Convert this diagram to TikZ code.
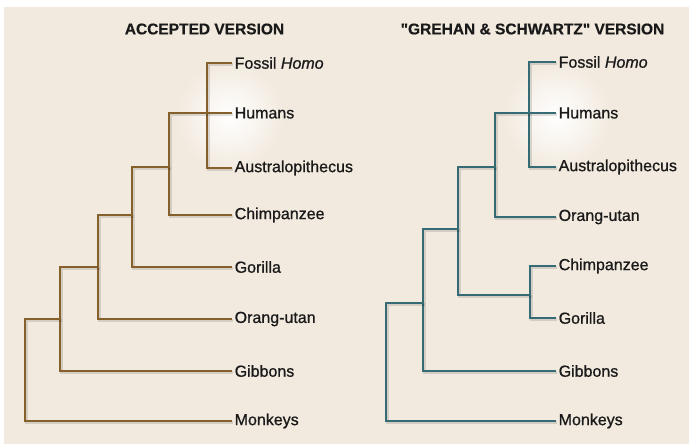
\documentclass[tikz,border=0pt]{standalone}
\usepackage{fontspec}
\setmainfont{Liberation Sans}
\newfontface\taxonfont{Liberation Sans}[FakeBold=0.9]
\newfontface\taxonitfont{Liberation Sans Italic}[FakeBold=0.9]
\newfontface\headfont{Liberation Sans Bold}[FakeBold=0.6]
\definecolor{bgbeige}{HTML}{F2EADF}
\definecolor{brownline}{HTML}{86602B}
\definecolor{tealline}{HTML}{356B75}
\definecolor{labeltext}{HTML}{1A1A1A}
\tikzset{
  branchL/.style={draw=brownline, line width=2.6bp, line cap=rect,
    preaction={draw=black, draw opacity=0.12, line width=2.6bp,
      transform canvas={shift={(1.5bp,-1.5bp)}}}},
  branchR/.style={draw=tealline, line width=2.6bp, line cap=rect,
    preaction={draw=black, draw opacity=0.12, line width=2.6bp,
      transform canvas={shift={(1.5bp,-1.5bp)}}}},
  taxon/.style={anchor=west, inner xsep=3.5bp, inner ysep=0bp, text=labeltext,
    font=\fontsize{16bp}{18bp}\taxonfont},
  header/.style={inner sep=0bp, text=labeltext,
    font=\fontsize{15.5bp}{18bp}\headfont},
}
\begin{document}
\begin{tikzpicture}[x=1bp, y=-1bp]
\useasboundingbox (0,0) rectangle (689,444);
\fill[white] (0,0) rectangle (689,444);
\fill[bgbeige] (4,7) rectangle (689,444);
% glows
\shade[inner color=white, outer color=bgbeige] (230,116) circle (54);
\shade[inner color=white, outer color=bgbeige] (557,116) circle (54);
% headers
\node[header] (hL) at (204.5,29) {ACCEPTED VERSION};
\node[header] (hR) at (532.5,29) {\symbol{"22}GREHAN \& SCHWARTZ\symbol{"22} VERSION};
% left labels
\node[taxon] (fhL) at (231,63) {Fossil {\taxonitfont Homo}};
\node[taxon] (huL) at (231,113) {Humans};
\node[taxon] (auL) at (231,168) {Australopithecus};
\node[taxon] (chL) at (231,215) {Chimpanzee};
\node[taxon] (goL) at (231,267) {Gorilla};
\node[taxon] (orL) at (231,319) {Orang-utan};
\node[taxon] (giL) at (231,371) {Gibbons};
\node[taxon] (moL) at (231,421) {Monkeys};
% right labels
\node[taxon] (fhR) at (555,62) {Fossil {\taxonitfont Homo}};
\node[taxon] (huR) at (555,113) {Humans};
\node[taxon] (auR) at (555,167) {Australopithecus};
\node[taxon] (orR) at (555,217) {Orang-utan};
\node[taxon] (chR) at (555,266) {Chimpanzee};
\node[taxon] (goR) at (555,318) {Gorilla};
\node[taxon] (giR) at (555,371) {Gibbons};
\node[taxon] (moR) at (555,421) {Monkeys};
% left internal nodes
\coordinate (aL) at (207,113);
\coordinate (bL) at (169,167);
\coordinate (cL) at (132,215);
\coordinate (dL) at (98,267);
\coordinate (eL) at (60,319);
\coordinate (fL) at (25,370);
% right internal nodes
\coordinate (aR) at (529,113);
\coordinate (bR) at (495,167);
\coordinate (cgR) at (530,295);
\coordinate (cR) at (458,229);
\coordinate (dR) at (423,303);
\coordinate (eR) at (386,360);
% left tree
\draw[branchL] (fhL.west) -| (aL) |- (auL.west);
\draw[branchL] (bL) |- (huL.west);
\draw[branchL] (bL) |- (chL.west);
\draw[branchL] (cL) |- (bL);
\draw[branchL] (cL) |- (goL.west);
\draw[branchL] (dL) |- (cL);
\draw[branchL] (dL) |- (orL.west);
\draw[branchL] (eL) |- (dL);
\draw[branchL] (eL) |- (giL.west);
\draw[branchL] (fL) |- (eL);
\draw[branchL] (fL) |- (moL.west);
% right tree
\draw[branchR] (fhR.west) -| (aR) |- (auR.west);
\draw[branchR] (bR) |- (huR.west);
\draw[branchR] (bR) |- (orR.west);
\draw[branchR] (chR.west) -| (cgR) |- (goR.west);
\draw[branchR] (cR) |- (bR);
\draw[branchR] (cR) |- (cgR);
\draw[branchR] (dR) |- (cR);
\draw[branchR] (dR) |- (giR.west);
\draw[branchR] (eR) |- (dR);
\draw[branchR] (eR) |- (moR.west);
\end{tikzpicture}
\end{document}
